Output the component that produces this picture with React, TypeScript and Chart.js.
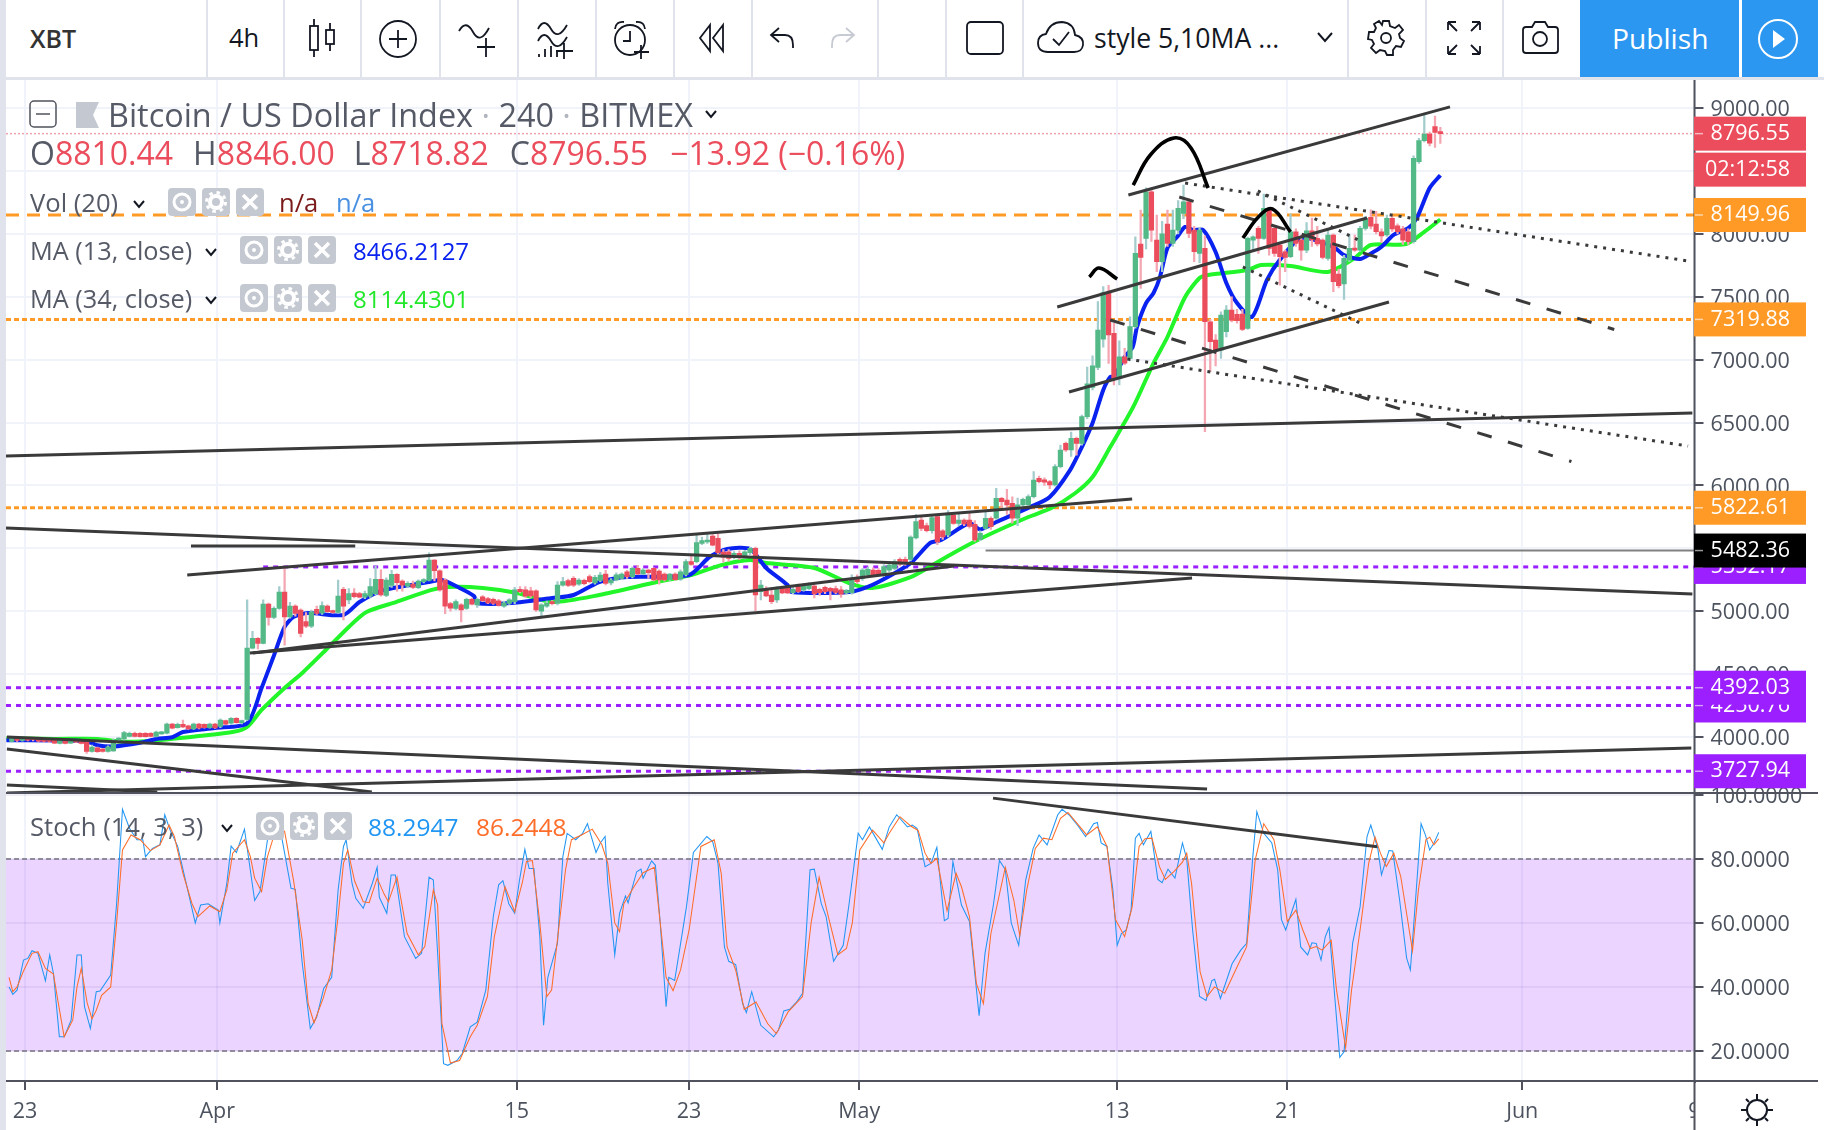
import React, { useEffect, useRef } from "react";
import { Chart, registerables } from "chart.js";

Chart.register(...registerables);

const opens = [
  3966,3985,3972,3995,3995,3995,3985,3980,3975,3950,
  3975,3952,3975,3962,3960,3885,3915,3905,3885,3890,
  3975,3985,4005,4030,4030,4030,4030,4005,4025,4030,
  4103,4075,4100,4088,4065,4103,4100,4075,4103,4085,
  4130,4110,4148,4115,4140,4707,4784,4745,5057,4951,
  5023,5153,4955,5041,5010,4917,4881,5015,4985,5041,
  4998,4990,5174,5090,5145,5140,5112,5120,5140,5253,
  5125,5205,5293,5240,5200,5215,5188,5235,5245,5407,
  5322,5248,5060,5023,5050,5023,5094,5050,5115,5100,
  5094,5083,5041,5062,5076,5174,5170,5163,5163,5000,
  5040,5075,5065,5208,5243,5261,5215,5245,5275,5225,
  5245,5296,5225,5248,5260,5314,5275,5341,5296,5327,
  5341,5320,5296,5250,5296,5255,5290,5394,5394,5540,
  5550,5598,5579,5470,5473,5428,5460,5425,5465,5500,
  5155,5182,5129,5090,5182,5182,5148,5208,5170,5180,
  5200,5175,5190,5182,5180,5170,5145,5147,5269,5261,
  5288,5327,5325,5288,5327,5340,5412,5412,5412,5582,
  5725,5680,5640,5752,5640,5606,5765,5699,5725,5725,
  5690,5570,5659,5739,5739,5898,5884,5858,5739,5845,
  5845,5911,6057,6045,6030,6004,6149,6335,6282,6375,
  6335,6547,6780,6939,7162,7533,7209,6851,7023,7010,
  7262,7919,7964,8335,7950,7778,8078,7924,8030,8163,
  8255,8030,7845,7884,7301,7156,7076,7222,7394,7360,
  7362,7248,7950,8043,7964,8202,8043,7911,7858,7818,
  8017,7950,7871,8025,7964,7951,7805,7991,7680,7601,
  7792,7885,7871,8044,8131,8078,8017,7991,8123,8064,
  8040,8017,7938,8574,8741,8794,8852,8810.44,
];
const highs = [
  3998,3995,4005,4002,4000,4000,3990,3985,3980,3990,
  3980,3980,3982,3968,3965,3935,3920,3910,3930,3985,
  3995,4045,4040,4040,4035,4035,4035,4048,4045,4110,
  4108,4110,4135,4095,4110,4108,4105,4110,4108,4145,
  4135,4155,4155,4135,5090,4840,4790,5090,5065,5035,
  5195,5359,5070,5050,5020,4990,5010,5040,5075,5050,
  5010,5248,5190,5180,5180,5150,5160,5260,5359,5330,
  5265,5325,5300,5250,5235,5240,5250,5260,5465,5410,
  5330,5260,5070,5090,5060,5105,5105,5105,5125,5110,
  5105,5095,5080,5100,5190,5195,5195,5190,5170,5060,
  5080,5085,5235,5270,5255,5275,5260,5255,5290,5285,
  5310,5325,5260,5305,5305,5325,5350,5365,5340,5335,
  5345,5330,5305,5300,5305,5330,5410,5440,5619,5590,
  5625,5610,5625,5490,5490,5475,5480,5485,5510,5510,
  5245,5195,5185,5195,5195,5190,5190,5215,5220,5225,
  5210,5185,5200,5190,5200,5195,5175,5290,5290,5340,
  5350,5345,5340,5370,5380,5410,5425,5430,5600,5770,
  5750,5700,5770,5765,5650,5800,5780,5780,5735,5780,
  5720,5640,5790,5750,5977,5905,5970,5910,5900,5900,
  5925,6110,6075,6060,6040,6165,6320,6345,6425,6385,
  6560,6940,7030,7461,7580,7590,7290,7150,7090,7340,
  7977,8189,8365,8350,8150,8100,8189,8189,8265,8388,
  8280,8060,8050,7985,7320,7200,7380,7430,7500,7400,
  7400,7975,7985,8060,8316,8210,8060,7925,7870,8160,
  8040,7990,8090,8125,8060,7960,8040,8000,7720,7830,
  7991,7991,8060,8140,8190,8180,8040,8150,8140,8080,
  8060,8040,8620,8760,8953,8810,8937,8846,
];
const lows = [
  3960,3965,3968,3970,3970,3962,3960,3958,3948,3945,
  3945,3948,3955,3945,3870,3880,3878,3880,3880,3885,
  3960,3975,4000,4000,3998,3998,4000,4000,4020,4025,
  4065,4070,4075,4060,4060,4065,4070,4070,4068,4075,
  4098,4100,4110,4105,4130,4700,4700,4740,4890,4940,
  5015,4730,4945,4960,4795,4870,4870,4975,4975,4990,
  4985,4985,4930,5060,5105,5105,5100,5110,5130,5120,
  5115,5190,5160,5160,5190,5180,5180,5225,5240,5240,
  5160,4980,5000,5010,4915,5015,5050,5030,5075,5060,
  5055,5040,5030,5055,5060,5145,5110,5110,4998,4950,
  5030,5050,5050,5200,5195,5195,5205,5210,5225,5215,
  5235,5210,5210,5240,5250,5260,5265,5290,5290,5260,
  5240,5215,5240,5245,5245,5245,5280,5365,5385,5530,
  5540,5520,5440,5390,5395,5415,5410,5415,5450,5004,
  5090,5115,5060,5070,5140,5140,5140,5150,5160,5170,
  5105,5125,5140,5090,5140,5110,5135,5135,5220,5245,
  5275,5275,5280,5275,5315,5330,5360,5365,5400,5575,
  5640,5630,5620,5530,5570,5590,5690,5680,5680,5660,
  5555,5560,5650,5650,5730,5820,5770,5700,5680,5830,
  5830,5900,6020,6000,5975,5995,6140,6270,6230,6240,
  6320,6530,6760,6920,7100,6970,6800,6800,6960,6990,
  7250,7566,7880,7940,7699,7700,7900,7900,8000,8120,
  7970,7778,7770,6427,6904,6950,7010,7180,7300,7290,
  7230,7240,7870,7845,7955,7830,7820,7593,7700,7810,
  7900,7790,7850,7900,7905,7800,7790,7540,7570,7479,
  7780,7860,7860,8030,8040,8000,7930,7980,8020,8000,
  7915,7915,7925,8560,8730,8700,8688,8718.82,
];
const closes = [
  3985,3972,3992,3975,3978,3968,3965,3966,3952,3975,
  3950,3975,3960,3950,3885,3920,3883,3885,3922,3975,
  3985,4035,4030,4005,4003,4002,4005,4040,4040,4103,
  4070,4100,4080,4065,4103,4070,4075,4103,4072,4135,
  4103,4148,4115,4130,4707,4784,4745,5057,4951,5023,
  5153,4955,5041,4983,4824,4881,4995,4983,5045,4996,
  4990,5121,5041,5140,5115,5112,5140,5195,5253,5130,
  5248,5293,5227,5208,5222,5190,5240,5245,5407,5322,
  5170,5041,5025,5076,5010,5094,5057,5094,5083,5067,
  5062,5047,5067,5090,5170,5155,5120,5121,5010,5050,
  5062,5060,5208,5235,5205,5208,5248,5220,5235,5270,
  5288,5221,5248,5290,5296,5275,5341,5296,5327,5306,
  5248,5248,5248,5295,5250,5314,5394,5373,5545,5561,
  5565,5526,5465,5430,5420,5460,5428,5473,5500,5129,
  5208,5121,5076,5182,5146,5146,5175,5155,5208,5208,
  5137,5147,5155,5160,5150,5135,5165,5261,5235,5327,
  5333,5288,5290,5354,5367,5394,5375,5380,5590,5712,
  5659,5640,5745,5550,5590,5781,5699,5725,5695,5675,
  5566,5620,5739,5673,5898,5871,5845,5739,5845,5890,
  5911,6043,6030,6025,6004,6149,6282,6282,6375,6335,
  6547,6807,6950,7236,7533,7196,6851,7023,6971,7262,
  7845,7813,8335,8030,7778,8000,7924,8030,8202,8255,
  8003,7858,8030,7301,7142,7076,7354,7394,7314,7310,
  7240,7964,7977,7964,8202,7884,7845,7818,7813,8017,
  7924,7871,8025,7951,7919,7813,7991,7620,7588,7805,
  7885,7871,8044,8123,8062,8017,7983,8123,8040,8017,
  7950,7938,8600,8741,8794,8720,8807,8796.55,
];

const ma13Bars = [-1,8,14,16,19,24,27,30,32,38,44,46.7,48.9,51,52.7,55.4,62,65,69.5,78,80.4,83.7,86.4,87,93.5,101,105,109.8,115,126.6,130.4,133.7,138,141,145,145.7,156.5,160.8,168,171.6,173.7,179,181,184,190.4,194,197.8,200,202,204,205.3,206,208,209.5,210.3,212,213.4,214.6,216,217.8,219.3,220.8,222.7,225,227,229,231.8,234.6,237,241,247,248.9,252,253.9,256,258.2,261,262.6,265,267];
const ma13Values = [3975,3972,3965,3935,3925,3955,3985,3998,4040,4072,4110,4390,4636,4875,4955,4985,4970,5073,5168,5232,5248,5185,5120,5065,5065,5105,5129,5232,5272,5288,5431,5495,5495,5344,5208,5153,5153,5208,5383,5542,5566,5701,5650,5709,5829,5908,6122,6305,6496,6759,6862,6862,7021,7100,7259,7450,7530,7657,7888,7975,8055,8030,8030,7856,7610,7450,7340,7634,7793,7967,7897,7834,7800,7840,7897,7990,8045,8125,8365,8466];

const ma34Bars = [-1,8,16,20,22.8,29,35,41.5,44,46.7,51,54.3,58.7,63,66.3,71.8,78.3,81.5,88,94.5,101,109.8,120.6,127,132.6,138,141,150,156.5,160.8,168,171.5,176,181.3,190,194.3,198.8,202,205.3,209.6,213.4,216,219.3,222,223.6,231,233.5,239,246,251,254,260.6,264,267];
const ma34Values = [3990,3985,3985,3965,3963,3981,4008,4042,4080,4215,4390,4509,4692,4875,4994,5073,5168,5192,5185,5145,5073,5129,5232,5288,5367,5407,5383,5344,5224,5185,5272,5352,5463,5582,5749,5820,5940,6067,6305,6624,6973,7180,7498,7649,7673,7713,7752,7744,7697,7808,7911,7919,8015,8114];

const stochKBars = [-0.5,0.2,1,2.2,3,3.8,4.9,6.3,7.1,7.8,8.9,9.8,11.1,12.2,13,13.6,14.7,15.8,16.5,18.5,19.6,20.7,22,23.4,24.5,25,26.3,27.7,28.6,29.6,31,32.6,34.3,35.3,36.7,38.6,38.9,40.2,41,42,43.5,45.4,46.4,47.8,50,51,52.2,53,54.3,55.8,57,58.3,59.8,61,62,62.5,63.6,64.3,65.7,67.4,68.3,68.7,70.1,70.9,71.7,73.4,75.5,76.6,78,78.8,79.6,80.7,81.5,83.2,84.2,85.7,87,88.6,90,91,91.8,92.9,94,94.9,95.9,96.7,97.6,98.7,99.4,100.2,102,103,103.8,105.4,106.7,107.6,109.2,110,110.9,111.4,112.7,113.6,114.7,115.2,116.8,117.6,118,119.6,120.3,121.2,122.3,122.8,123.9,126.1,127.4,129.9,131,132,133.2,134,135.3,136.6,137.3,138.3,140,142.4,143.3,144.3,145.4,146.7,147.8,149.2,150,151.3,152.2,153.6,155.4,156.5,158.2,159,160.3,162.7,164,165.4,167.4,168.3,169.2,170.7,171.8,172.9,174.3,175,175.9,177.5,179,180.8,181.9,183.5,184.6,185.7,186.8,188.2,189.5,190.9,192,193.5,195.5,196.3,197.6,199.3,200.7,202.2,202.9,203.6,204.7,205.8,206.6,207.4,208.3,209.2,210,210.7,211.5,212.9,214.2,215,216.1,217.4,218.8,219.6,220.7,222,223.2,224.3,224.8,225.9,228.1,229.7,230.8,231.9,232.7,234,235.5,236.6,237.3,238.1,240,240.9,242.2,243,243.8,244.7,245.5,246.2,248.2,249,250.6,252,253.3,254,255.3,256,257.4,258.1,259.4,260.7,261.4,262.5,263.4,264.2,265,265.8,266.7];
const stochKValues = [40,37.7,39,48.4,48.9,51.3,50.5,41.9,50,44.2,24.4,24.4,29.6,50,50,33.8,27,38.5,38.7,43.7,66,95.5,89.6,86,86,80.7,83.3,84.4,93.8,89,84,72.4,60,65.6,66,64,60,72.4,84,82,89.3,67,69.8,86,91,81.8,70.8,70.5,47.3,27,30.6,39.5,43,70.3,83.9,86,72.4,67.7,64.6,72.4,77.4,68,63,75,75,55.7,48.9,50.5,74.3,73.4,50.5,16,15.5,17,19.2,27.5,29,39,62,71.9,73.2,66,63,73.4,83,77,77,55.7,28,43,53.6,80.7,88,86,88,91,82,85,87,72.4,50,63,68.4,66.3,76,76.8,74,79.4,78,60,33.8,43,42,65,82,87,85.4,78.6,52.5,48,47,34.8,32,38.5,28,24.4,26.5,32.5,33,35.3,38,76.6,76.8,66,62,48,53,66,88,86,90,83,90,93.8,90,90.6,89.6,77.6,78.6,83.6,60.7,61.4,79.2,65.6,60.4,31,50.5,66,79.5,76.6,60,53,73.4,83.3,87.5,84.4,93.8,95.5,93.8,90.3,87,91,91.4,85,83.9,70.3,53,56.7,57.8,64,86.5,88,84.4,88.6,73.6,72.6,76.8,74,85,80,57.8,37,35.8,42,42.4,36.4,47.3,51.5,53.6,79.7,94.8,88,85,76.6,61,57.8,67.4,52.5,50,53.8,53.6,48.4,55.7,58.6,18,19.7,53.6,65,87,90.6,83.3,75,82.6,82.5,67,49,45.3,70.3,91,87.5,82.8,84.9,88.29];

const stochDBars = [-0.5,0.2,1,2.2,3.8,4.9,6.3,7.8,8.7,9.8,11.4,12.2,13,14.1,15,15.8,16.8,18.5,19.6,20.7,22.3,24,25.9,27.7,29.4,30.4,32,33.7,34.8,37,38.9,40.2,41.3,43.5,44.6,45.4,46.7,47.8,49.5,51,52.7,54.3,55.4,56.5,58.2,59.8,61,62,62.8,64.1,65.7,66.8,68.3,69.6,70.4,72,73.9,76,77.2,78.8,79.6,80.4,82,83.7,85.7,87,88.9,90.2,92.2,94,95.4,96.2,97.3,98.7,100,100.9,102.2,103.5,104.6,106.5,108.5,110.3,111.4,112.7,113.6,114.4,116.3,118,120.1,121.2,122.3,123.6,125,126.6,128.8,131.3,132.6,133.7,135.3,136.9,139.1,141.3,142.9,145.1,147.8,149.4,150.9,152.7,154.4,156,157.1,158.5,160.9,163,164,166,168,169.4,170.7,171.8,172.9,174.8,176.5,177.5,179,180.3,181.6,183,185.7,187.3,188.4,189.7,191.3,192.8,194.4,196,197.4,200.9,202.9,204.7,206.3,208,209.4,210.7,211.8,213.1,214.5,215.6,217.2,218.8,219.6,220.5,222.1,223.4,224.8,226.7,228.1,230.8,232.4,234,235.9,237,238.4,240,241.3,242.7,243.8,244.9,246.6,247.6,249.3,250.4,252,253.6,254.8,255.8,256.9,258.3,259.6,261.8,262.9,264.3,265,265.8,266.7];
const stochDValues = [43,38.5,40,45,50.5,51,45.8,44,35,24.4,29.6,40,45.8,35,30,32.7,37.4,40,60,82.8,87.5,86,82.6,84.4,90.6,87,75.5,66,62,65.3,63.5,70.3,81.8,86,80.7,74,69.8,80.7,90,88.6,73,54.6,34.8,28.8,36.4,45.3,62,78.6,82.8,73,66.6,66.3,74,69,66.6,74.3,56.7,50,52.6,70.3,65.6,28.5,16.2,17,24.4,28,37,55.7,71.3,63.5,72.4,79.2,79.5,60,37,39,57.8,76.6,86,87.5,89.3,84.4,78.6,60,57.3,66,71.3,75.7,77.4,60,43,38.8,45.3,57.8,83.9,86,75.5,52.5,45.3,33,35.3,28.5,25.4,32.2,37,60,74.3,61.4,50,52,60,82.8,89,85,88,93.2,90.3,88.9,81.8,78.6,80.2,63.8,75.5,71.3,62,41,34.8,56.7,77.4,67,56,70.3,83.3,86.5,86,92.7,94.5,87.5,90,83.9,61,55.7,65,83.9,86.3,86.5,77.6,73.6,76,79,81.8,72.4,44.7,37,40,38,43,52.6,79.7,91,86,76.6,60.4,64,57.8,52,52.6,51.5,54.6,39,21,39,57.8,78.6,86.8,81.8,77.6,81.8,74.5,51.3,70.3,86,86.8,84.4,86.24];

const priceAxisTicks = [4000,4500,5000,5500,6000,6500,7000,7500,8000,8500,9000];
const stochAxisTicks = [20,40,60,80,100];
const dateTickBars = [2.49,38.4,94.4,126.6,158.4,206.6,238.4,282.3,314.5];
const dateTickLabels = ["23","Apr","15","23","May","13","21","Jun","9"];

const solidTrendLines = [
  [[-1.07,6234],[314.1,6576]],
  [[-1.07,5662],[314.1,5137]],
  [[33.5,5518],[64.2,5518]],
  [[32.8,5288],[209.4,5892]],
  [[44.5,4668],[220.6,5264]],
  [[45.1,4668],[176.1,5359]],
  [[-0.9,3905],[67.3,3563]],
  [[-0.9,3618],[27.2,3563]],
  [[-0.9,4000],[223.4,3587]],
  [[-0.9,3555],[313.9,3913]],
  [[208.7,8309],[268.8,9009]],
  [[195.4,7419],[253.3,8126]],
  [[197.6,6743],[257.4,7458]],
];
const dashedTrendLines = [
  [[218.2,8293],[299.5,7240]],
  [[205.3,7315],[291.5,6190]],
];
const dottedTrendLines = [
  [[219.3,8404],[313.3,7784]],
  [[208.5,7005],[313.3,6313]],
  [[230.1,7737],[252,7291]],
  [[232.9,8341],[251.7,7951]],
];
const arcDrawings = [
  [[209.6,8388],[212.8,8627],[217.2,8762],[220.4,8683],[223.6,8365]],
  [[201.4,7657],[203.2,7729],[206.6,7641]],
  [[230.1,7967],[233,8134],[235.6,8198],[239,8015]],
];
const stochTrendLine = [[183.4,99],[255.2,83.8]];
const barFirstGray = 182;
const barFirstPurple = 47;
const grayLevel = 5482.36;
const purpleTopLevel = 5352.17;
const purpleLevels = [4392.03,4250.76,3727.94];
const orangeDashedLevel = 8149.96;
const orangeDottedLevels = [7319.88,5822.61];
const lastCloseLevel = 8796.55;
const bandTop = 80;
const bandBottom = 20;

const priceTagValues = [8796.55,8149.96,7319.88,5822.61,5352.17,5482.36,4250.76,4392.03,3727.94];
const priceTagKinds = ["red","orange","orange","orange","purple","black","purple","purple","purple"];
const countdownText = "02:12:58";

const FONT = '"Open Sans", "Noto Sans", sans-serif';
const GRID = "#f0f3fa";
const AXIS = "#50535e";
const GREEN = "#53b987";
const RED = "#eb4d5c";
const WICK_GREEN = "#a3cccc";
const WICK_RED = "#f4a6b2";
const DARK = "#3a3a3a";
const TAG: Record<string,string> = { red:"#eb4d5c", orange:"#ff9a26", purple:"#9b1fff", black:"#000000" };
const X_MIN = -1.07;
const X_MAX = 314.5;

const pts = (rows: number[][]) => rows.map(([x, y]) => ({ x, y }));
const zip = (xs: number[], ys: number[]) => xs.map((x, i) => ({ x, y: ys[i] }));
const line = (data: any[], yAxisID: string, borderColor: string, borderWidth: number, borderDash: number[], order: number, extra: any = {}) => ({
  type: "line", data, yAxisID, xAxisID: "x", borderColor, borderWidth, borderDash, order,
  pointRadius: 0, tension: 0, fill: false, ...extra,
});
const hline = (level: number, from: number, yAxisID: string, color: string, width: number, dash: number[], order: number) =>
  line([{ x: from, y: level }, { x: X_MAX, y: level }], yAxisID, color, width, dash, order);

const chrome = {
  id: "chrome",
  afterDraw(chart: any) {
    const { ctx } = chart;
    const price = chart.scales.price;
    ctx.save();
    ctx.fillStyle = "#ffffff";
    ctx.fillRect(1695, 1083, 123, 47);
    ctx.strokeStyle = AXIS;
    ctx.lineWidth = 2;
    for (const y of [793, 1081]) {
      ctx.beginPath(); ctx.moveTo(6, y); ctx.lineTo(1818, y); ctx.stroke();
    }
    ctx.beginPath(); ctx.moveTo(1694.5, 79); ctx.lineTo(1694.5, 1130); ctx.stroke();
    ctx.font = `21.5px ${FONT}`;
    ctx.textBaseline = "middle";
    ctx.textAlign = "right";
    const tag = (y: number, color: string, text: string) => {
      ctx.fillStyle = color;
      ctx.fillRect(1694, y - 17, 112, 34);
      ctx.fillStyle = "#ffffff";
      ctx.fillText(text, 1790, y);
    };
    priceTagValues.forEach((v, i) => {
      const y = price.getPixelForValue(v);
      tag(y, TAG[priceTagKinds[i]], v.toFixed(2));
      ctx.strokeStyle = "rgba(255,255,255,.6)";
      ctx.lineWidth = 1.5;
      ctx.beginPath(); ctx.moveTo(1695, y); ctx.lineTo(1703, y); ctx.stroke();
    });
    tag(price.getPixelForValue(lastCloseLevel) + 36, TAG.red, countdownText);
    ctx.restore();
  },
};

function PriceChart() {
  const ref = useRef<HTMLCanvasElement>(null);
  useEffect(() => {
    const bars = opens.map((_, i) => i);
    const up = bars.map((i) => closes[i] >= opens[i]);
    const datasets: any[] = [
      line([{ x: X_MIN, y: bandTop }, { x: X_MAX, y: bandTop }], "stoch", "#8f8a9c", 2, [5, 3], 100,
        { fill: { value: bandBottom }, backgroundColor: "rgba(155,39,255,0.2)" }),
      hline(bandBottom, X_MIN, "stoch", "#8f8a9c", 2, [5, 3], 99),
      line(zip(stochKBars, stochKValues), "stoch", "#2196f3", 1.05, [], 20),
      line(zip(stochDBars, stochDValues), "stoch", "#ff6d2a", 1.05, [], 19),
      line(pts(stochTrendLine), "stoch", DARK, 3, [], 5),
      hline(lastCloseLevel, X_MIN, "price", "#f2a3ad", 1.5, [2, 2], 90),
      hline(orangeDashedLevel, X_MIN, "price", "#ff9a26", 3, [13, 8], 90),
      ...orangeDottedLevels.map((l) => hline(l, X_MIN, "price", "#ff9a26", 3, [5, 3], 90)),
      hline(grayLevel, barFirstGray, "price", "#808080", 2, [], 90),
      hline(purpleTopLevel, barFirstPurple, "price", "#9b1fff", 3, [5, 5], 90),
      ...purpleLevels.map((l) => hline(l, X_MIN, "price", "#9b1fff", 3, [5, 5], 90)),
      line(zip(ma34Bars, ma34Values), "price", "#22f52a", 4, [], 80, { tension: 0.25 }),
      line(zip(ma13Bars, ma13Values), "price", "#0a22f0", 4, [], 79, { tension: 0.25 }),
      {
        type: "bar", yAxisID: "price", xAxisID: "x", order: 60, grouped: false, barThickness: 1.6, borderWidth: 0,
        data: bars.map((i) => ({ x: i, y: [lows[i], highs[i]] })),
        backgroundColor: bars.map((i) => (up[i] ? WICK_GREEN : WICK_RED)),
      },
      {
        type: "bar", yAxisID: "price", xAxisID: "x", order: 50, grouped: false, barThickness: 4.6, borderWidth: 0, minBarLength: 2,
        data: bars.map((i) => ({ x: i, y: [opens[i], closes[i]] })),
        backgroundColor: bars.map((i) => (up[i] ? GREEN : RED)),
      },
      ...solidTrendLines.map((l) => line(pts(l), "price", DARK, 3, [], 10)),
      ...dashedTrendLines.map((l) => line(pts(l), "price", DARK, 3, [15, 17], 10)),
      ...dottedTrendLines.map((l) => line(pts(l), "price", DARK, 3, [3, 6], 10)),
      ...arcDrawings.map((l) => line(pts(l), "price", "#000000", 3.6, [], 9, { tension: 0.4 })),
    ];
    const tickFont = { family: FONT, size: 21.5 };
    const shiftedFont = { family: FONT, size: 21.5, lineHeight: "4px" };
    const chart = new Chart(ref.current as HTMLCanvasElement, {
      type: "line",
      data: { datasets },
      plugins: [chrome],
      options: {
        animation: false,
        responsive: false,
        devicePixelRatio: 1,
        layout: { padding: { left: 6, top: 79, right: 6, bottom: 0 } },
        plugins: { legend: { display: false }, tooltip: { enabled: false }, title: { display: false } },
        events: [],
        scales: {
          x: {
            type: "linear", min: X_MIN, max: X_MAX, offset: false,
            border: { display: true, color: AXIS, width: 2 },
            grid: { offset: false, color: GRID, lineWidth: 2, tickColor: AXIS, tickLength: 9, tickWidth: 2 },
            afterBuildTicks: (s: any) => { s.ticks = dateTickBars.map((value) => ({ value })); },
            afterFit: (s: any) => { s.height = 49; },
            ticks: {
              autoSkip: false, maxRotation: 0, color: "#4c525e", font: tickFont, padding: 9,
              callback: (v: any) => dateTickLabels[dateTickBars.indexOf(v)],
            },
          },
          price: {
            type: "linear", position: "right", stack: "panes", stackWeight: 714, weight: 1, min: 3555, max: 9231,
            border: { display: false },
            grid: { color: GRID, lineWidth: 2, tickColor: AXIS, tickLength: 9, tickWidth: 2 },
            afterBuildTicks: (s: any) => { s.ticks = priceAxisTicks.map((value) => ({ value })); },
            afterFit: (s: any) => { s.width = 123.5; },
            ticks: { color: "#4c525e", font: shiftedFont, padding: 7, callback: (v: any) => ["", Number(v).toFixed(2)] },
          },
          stoch: {
            type: "linear", position: "right", stack: "panes", stackWeight: 288, weight: 2, min: 10.6, max: 100.6,
            border: { display: false },
            grid: { color: "rgba(150,140,190,0.14)", lineWidth: 2, tickColor: AXIS, tickLength: 9, tickWidth: 2 },
            afterBuildTicks: (s: any) => { s.ticks = stochAxisTicks.map((value) => ({ value })); },
            afterFit: (s: any) => { s.width = 123.5; },
            ticks: { color: "#4c525e", font: shiftedFont, padding: 7, callback: (v: any) => ["", Number(v).toFixed(4)] },
          },
        },
      } as any,
    } as any);
    return () => chart.destroy();
  }, []);
  return <canvas ref={ref} width={1824} height={1130} style={{ position: "absolute", left: 0, top: 0, width: 1824, height: 1130 }} />;
}

function Txt({ x, y, size = 25.6, color = "#131722", weight = 400, children }: any) {
  return (
    <span style={{ position: "absolute", left: x, top: y, transform: "translateY(-50%)", fontSize: size, color, fontWeight: weight, whiteSpace: "nowrap", lineHeight: 1 }}>
      {children}
    </span>
  );
}

function Ico({ cx, cy, w = 40, h = 40, stroke = "#131722", sw = 1.8, children }: any) {
  return (
    <svg width={w} height={h} viewBox={`0 0 ${w} ${h}`} fill="none" stroke={stroke} strokeWidth={sw}
      style={{ position: "absolute", left: cx - w / 2, top: cy - h / 2 }}>
      {children}
    </svg>
  );
}

function Chevron({ x, y }: any) {
  return <Ico cx={x} cy={y} w={14} h={10} sw={2}><path d="M2 2 L7 8 L12 2" /></Ico>;
}

function Btn({ x, y, kind }: any) {
  return (
    <svg width={28} height={28} viewBox="0 0 28 28" style={{ position: "absolute", left: x, top: y }}>
      <rect width={28} height={28} rx={4} fill="#c4c8d1" />
      {kind === "eye" && <g fill="none" stroke="#fff" strokeWidth={3}><circle cx={14} cy={14} r={8} /><circle cx={14} cy={14} r={2} fill="#fff" stroke="none" /></g>}
      {kind === "gear" && <g fill="none" stroke="#fff"><circle cx={14} cy={14} r={6} strokeWidth={4} /><circle cx={14} cy={14} r={9.5} strokeWidth={3} strokeDasharray="3.5 4" /></g>}
      {kind === "x" && <path d="M7 7 L21 21 M21 7 L7 21" stroke="#fff" strokeWidth={3.5} />}
    </svg>
  );
}

const Btns = ({ x, y }: any) => (
  <>
    <Btn x={x} y={y} kind="eye" />
    <Btn x={x + 34} y={y} kind="gear" />
    <Btn x={x + 68} y={y} kind="x" />
  </>
);

const separators = [206,283,360,439,517,595,673,751,877,945,1022,1347,1425,1502];

function Toolbar() {
  return (
    <>
      <div style={{ position: "absolute", left: 0, top: 0, width: 1824, height: 77, background: "#fff", borderBottom: "3px solid #e0e3eb", boxSizing: "content-box" }} />
      {separators.map((x) => <div key={x} style={{ position: "absolute", left: x, top: 0, width: 2, height: 77, background: "#e0e3eb" }} />)}
      <div style={{ position: "absolute", left: 1579.5, top: 0, width: 238.5, height: 77, background: "#2c97f0" }} />
      <div style={{ position: "absolute", left: 1739, top: 0, width: 2.5, height: 77, background: "#fff" }} />
      <Txt x={30} y={38} size={25} color="#333" weight={600}>XBT</Txt>
      <Txt x={229} y={38} size={25.5} color="#131722">4h</Txt>
      <Ico cx={323} cy={38}><path d="M11 1 V39 M27 5 V33" /><rect x={7} y={8} width={8} height={24} fill="#fff" /><rect x={23} y={12} width={8} height={14} fill="#fff" /></Ico>
      <Ico cx={398} cy={39}><circle cx={20} cy={20} r={18} /><path d="M11 20 H29 M20 11 V29" /></Ico>
      <Ico cx={477} cy={39}><path d="M2 12 Q 9 0 16 13 T 32 9 M29 19 V38 M20 28 H38" /></Ico>
      <Ico cx={555} cy={39}><path d="M3 10 Q 9 -2 16 10 T 32 6 M3 22 Q 9 10 16 22 T 32 18 M29 24 V40 M21 32 H38 M4 38 V35 M10 38 V30 M16 38 V27 M22 38 V31" /></Ico>
      <Ico cx={632} cy={39}><circle cx={18} cy={21} r={15} /><path d="M18 12 V22 H11 M3 10 Q 4 2 12 3 M33 10 Q 32 2 24 3 M29 26 V40 M22 33 H37" /></Ico>
      <Ico cx={712} cy={38}><path d="M18 7 L8 20 L18 33 Z M31 7 L21 20 L31 33 Z" /></Ico>
      <Ico cx={785} cy={38}><path d="M14 10 L6 17 L14 24 M6 17 H20 Q 28 17 28 27 V30" /></Ico>
      <Ico cx={840} cy={38} stroke="#c7cad3"><path d="M26 10 L34 17 L26 24 M34 17 H20 Q 12 17 12 27 V30" /></Ico>
      <Ico cx={985} cy={38}><rect x={2} y={4} width={36} height={32} rx={4} /></Ico>
      <Ico cx={1061} cy={38} w={50} h={40}><path d="M12 34 Q 2 34 2 25 Q 2 17 10 16 Q 14 4 26 4 Q 38 5 39 17 Q 48 19 47 27 Q 46 34 38 34 Z M17 21 L23 27 L33 14" /></Ico>
      <Txt x={1094} y={38} size={26.6} color="#131722">style 5,10MA ...</Txt>
      <Ico cx={1325} cy={37} w={18} h={12} sw={2}><path d="M2 2 L9 10 L16 2" /></Ico>
      <Ico cx={1386} cy={38}><circle cx={20} cy={20} r={5} /><path d="M17 3 H23 L24 8 L29 10 L33 7 L37 12 L33 16 L34 20 L38 23 L35 29 L30 28 L27 32 L27 37 H21 L19 33 L14 32 L10 35 L5 30 L8 26 L6 22 L2 21 L3 14 L8 14 L10 10 L8 6 L13 3 L16 7 Z" /></Ico>
      <Ico cx={1464} cy={38}><path d="M4 4 H12 M4 4 V12 M4 4 L13 13 M36 4 H28 M36 4 V12 M36 4 L27 13 M4 36 H12 M4 36 V28 M4 36 L13 27 M36 36 H28 M36 36 V28 M36 36 L27 27" /></Ico>
      <Ico cx={1540} cy={38}><path d="M3 12 Q3 9 6 9 H12 L15 4 H25 L28 9 H35 Q38 9 38 12 V32 Q38 35 35 35 H6 Q3 35 3 32 Z" /><circle cx={20} cy={21} r={7} /></Ico>
      <Txt x={1612} y={38} size={28.2} color="#fff">Publish</Txt>
      <Ico cx={1778} cy={39} stroke="#fff" sw={2}><circle cx={20} cy={20} r={19} /><path d="M15 11 L27 20 L15 29 Z" fill="#fff" stroke="none" /></Ico>
    </>
  );
}

function Legend() {
  return (
    <>
      <Ico cx={43} cy={114} w={28} h={28} stroke="#50535e" sw={1.5}><rect x={1} y={1} width={26} height={26} rx={4} /><path d="M7 14 H21" /></Ico>
      <svg width={24} height={26} viewBox="0 0 24 26" style={{ position: "absolute", left: 76, top: 102 }}><path d="M0 0 H23 L17 13 L23 26 H0 Z" fill="#c4c8d1" /></svg>
      <Txt x={108} y={114} size={32.4} color="#555a66">Bitcoin / US Dollar Index<span style={{ color: "#b2b5be" }}> · </span>240<span style={{ color: "#b2b5be" }}> · </span>BITMEX</Txt>
      <Chevron x={711} y={114} />
      <Txt x={30} y={153} size={32} color="#555a66">
        O<span style={{ color: RED }}>8810.44</span>
        <span style={{ marginLeft: 20 }}>H</span><span style={{ color: RED }}>8846.00</span>
        <span style={{ marginLeft: 19 }}>L</span><span style={{ color: RED }}>8718.82</span>
        <span style={{ marginLeft: 21 }}>C</span><span style={{ color: RED }}>8796.55</span>
        <span style={{ marginLeft: 22, color: RED }}>−13.92 (−0.16%)</span>
      </Txt>
      <Txt x={30} y={203} color="#555a66">Vol (20)</Txt>
      <Chevron x={139} y={204} />
      <Btns x={168} y={188} />
      <Txt x={279} y={203} color="#7a1a1a">n/a</Txt>
      <Txt x={336} y={203} color="#4a90e2">n/a</Txt>
      <Txt x={30} y={251} size={25.3} color="#555a66">MA (13, close)</Txt>
      <Chevron x={211} y={252} />
      <Btns x={240} y={236} />
      <Txt x={353} y={251} size={24} color="#0a22f0">8466.2127</Txt>
      <Txt x={30} y={299} size={25.3} color="#555a66">MA (34, close)</Txt>
      <Chevron x={211} y={300} />
      <Btns x={240} y={284} />
      <Txt x={353} y={299} size={24} color="#22e82a">8114.4301</Txt>
      <Txt x={30} y={827} color="#555a66">Stoch (14, 3, 3)</Txt>
      <Chevron x={227} y={828} />
      <Btns x={256} y={812} />
      <Txt x={368} y={827} size={24.5} color="#2196f3">88.2947</Txt>
      <Txt x={476} y={827} size={24.5} color="#ff6d2a">86.2448</Txt>
    </>
  );
}

export default function App() {
  return (
    <div style={{ position: "fixed", left: 0, top: 0, width: 1824, height: 1130, background: "#fff", overflow: "hidden", fontFamily: FONT }}>
      <PriceChart />
      <Toolbar />
      <div style={{ position: "absolute", left: 0, top: 0, width: 6, height: 1130, background: "#e0e3eb" }} />
      <Legend />
      <Ico cx={1757} cy={1110} w={36} h={36} sw={2}>
        <circle cx={18} cy={18} r={10} />
        <path d="M18 2 V8 M18 28 V34 M2 18 H8 M28 18 H34 M7 7 L10 10 M29 7 L26 10 M7 29 L10 26 M29 29 L26 26" />
      </Ico>
    </div>
  );
}
